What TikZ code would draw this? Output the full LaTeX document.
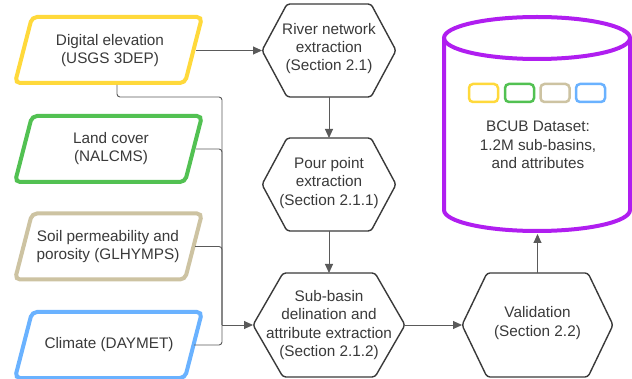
\documentclass[tikz,border=0pt]{standalone}
\usepackage{fontspec}
\setmainfont{Liberation Sans}
\usetikzlibrary{arrows.meta}
\definecolor{cyel}{HTML}{FFD93B}
\definecolor{cgrn}{HTML}{52C152}
\definecolor{ctan}{HTML}{CDC3A2}
\definecolor{cblu}{HTML}{6AB2FF}
\definecolor{cpur}{HTML}{B01EF0}
\definecolor{ctxt}{HTML}{3A3A3A}
\definecolor{cline}{HTML}{5A5A5A}
\tikzset{
  lbl/.style={align=center, inner sep=0pt, text=ctxt, font=\fontsize{15.3}{18.3}\selectfont},
  para/.style={line width=4pt, rounded corners=5pt, fill=white},
  hexa/.style={line width=1.4pt, draw=ctxt, rounded corners=3pt, fill=white},
  conn/.style={draw=cline, line width=0.9pt, rounded corners=3pt},
  arrowconn/.style={conn, -{Triangle[length=9pt,width=8pt]}},
  minibox/.style={line width=2.5pt, rounded corners=4pt},
}
\begin{document}
\begin{tikzpicture}[x=1pt,y=-1pt]
\useasboundingbox (0,0) rectangle (632,379);
% parallelograms
\foreach \cy/\col in {50/cyel,149/cgrn,246.5/ctan,345/cblu}{
  \draw[para, draw=\col] (32,\cy-33) -- (202,\cy-33) -- (185,\cy+33) -- (15,\cy+33) -- cycle;
}
\node[lbl] (dem) at (110,50.5) {Digital elevation\\(USGS 3DEP)};
\node[lbl] (lc) at (111,148.5) {Land cover\\(NALCMS)};
\node[lbl] (soil) at (108,246.5) {Soil permeability and\\porosity (GLHYMPS)};
\node[lbl] (clim) at (109,344.5) {Climate (DAYMET)};
\coordinate (dem-r) at (196,50.5);
\coordinate (dem-b) at (117,85);
\coordinate (lc-r) at (196,149);
\coordinate (soil-r) at (195,246.5);
\coordinate (clim-r) at (194,345);
% hexagons
\draw[hexa] (262,50.5) -- (287,4) -- (371,4) -- (396,50.5) -- (371,97) -- (287,97) -- cycle;
\draw[hexa] (262,184.5) -- (287,138) -- (371,138) -- (396,184.5) -- (371,231) -- (287,231) -- cycle;
\draw[hexa] (253,325) -- (283,273) -- (375,273) -- (405,325) -- (375,377) -- (283,377) -- cycle;
\draw[hexa] (462,325) -- (487,273) -- (588,273) -- (613,325) -- (588,377) -- (487,377) -- cycle;
\node[lbl] (river) at (329,48.5) {River network\\extraction\\(Section 2.1)};
\node[lbl] (pour) at (329,183) {Pour point\\extraction\\(Section 2.1.1)};
\node[lbl] (sub) at (329,325) {Sub-basin\\delination and\\attribute extraction\\(Section 2.1.2)};
\node[lbl] (val) at (537.5,323) {Validation\\(Section 2.2)};
\coordinate (river-l) at (262,50.5);
\coordinate (river-b) at (329,97);
\coordinate (pour-t) at (329,138);
\coordinate (pour-b) at (329,231);
\coordinate (sub-t) at (329,273);
\coordinate (sub-l) at (253,325);
\coordinate (sub-r) at (405,325);
\coordinate (val-l) at (462,325);
\coordinate (val-t) at (537.5,273);
% cylinder
\draw[cpur, line width=4pt, fill=white] (444,38) -- (444,210) arc[start angle=180, end angle=360, x radius=93pt, y radius=21pt] -- (630,38);
\draw[cpur, line width=4pt] (537,38) ellipse [x radius=93pt, y radius=21pt];
\foreach \cx/\col in {483.5/cyel,519.5/cgrn,555/ctan,590.5/cblu}{
  \draw[minibox, draw=\col] (\cx-14.5,84) rectangle (\cx+14.5,102);
}
\node[lbl] (db) at (538,145) {BCUB Dataset:\\1.2M sub-basins,\\and attributes};
\coordinate (db-b) at (537.5,234);
% connectors
\coordinate (j1) at (222,97);
\coordinate (j) at (222,325);
\draw[arrowconn] (dem-r) -- (river-l);
\draw[arrowconn] (river-b) -- (pour-t);
\draw[arrowconn] (pour-b) -- (sub-t);
\draw[conn] (dem-b) |- (j1) -- (j);
\draw[conn] (lc-r) -| (j);
\draw[conn] (soil-r) -| (j);
\draw[conn] (clim-r) -| (j);
\draw[arrowconn] (j) -- (sub-l);
\draw[arrowconn] (sub-r) -- (val-l);
\draw[arrowconn] (val-t) -- (db-b);
\end{tikzpicture}
\end{document}
